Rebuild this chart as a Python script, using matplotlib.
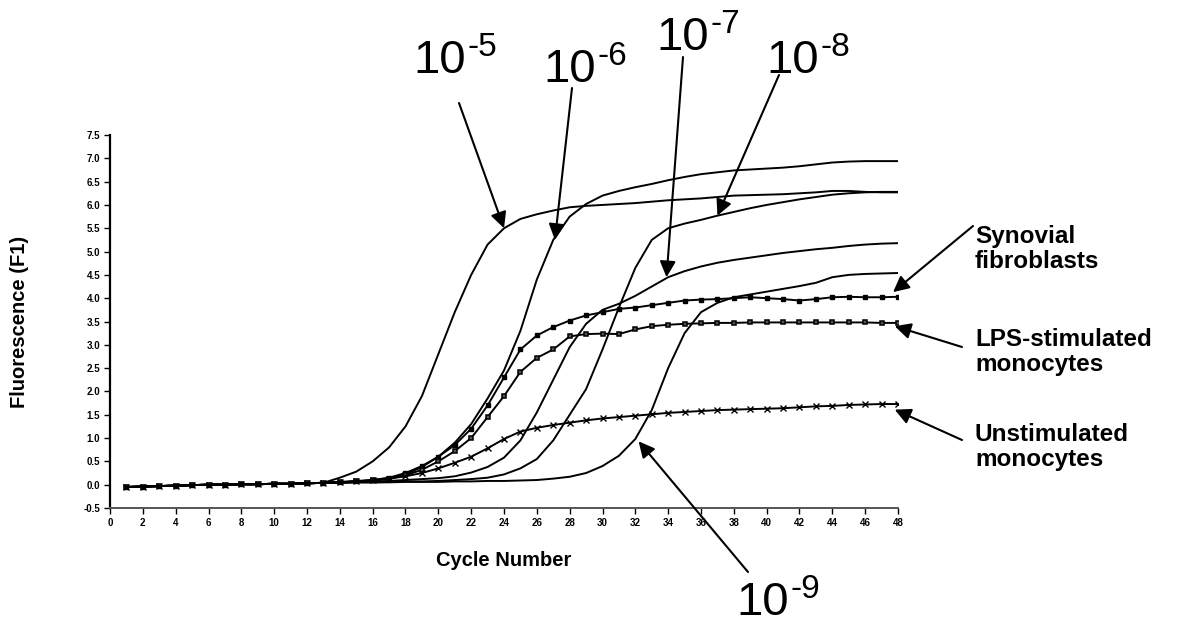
import matplotlib
matplotlib.use("Agg")
import matplotlib.pyplot as plt
import numpy as np

plt.rcParams['font.family'] = ['Liberation Sans', 'DejaVu Sans']

cycles = list(range(1, 49))
base = [-0.05, -0.04, -0.03, -0.02, -0.01, 0.0, 0.0, 0.01, 0.01, 0.02, 0.02, 0.03, 0.04]

d10_5 = base + [0.15, 0.28, 0.5, 0.8, 1.25, 1.9, 2.8, 3.7, 4.5, 5.15, 5.5, 5.7, 5.8, 5.88, 5.95,
                5.98, 6.0, 6.02, 6.04, 6.07, 6.1, 6.12, 6.14, 6.17, 6.2, 6.21, 6.22, 6.23, 6.25,
                6.27, 6.3, 6.3, 6.28, 6.27, 6.27]
d10_6 = base + [0.06, 0.08, 0.1, 0.14, 0.22, 0.38, 0.6, 0.9, 1.3, 1.85, 2.45, 3.3, 4.4, 5.25, 5.75,
                6.02, 6.2, 6.3, 6.38, 6.45, 6.53, 6.6, 6.66, 6.7, 6.74, 6.76, 6.78, 6.8, 6.83,
                6.87, 6.91, 6.93, 6.94, 6.94, 6.94]
d10_7 = base + [0.05, 0.06, 0.07, 0.08, 0.1, 0.12, 0.14, 0.18, 0.26, 0.38, 0.58, 0.95, 1.55, 2.25,
                2.95, 3.45, 3.75, 3.88, 4.05, 4.25, 4.45, 4.58, 4.68, 4.76, 4.82, 4.87, 4.92,
                4.97, 5.01, 5.05, 5.08, 5.12, 5.15, 5.17, 5.18]
d10_8 = base + [0.04, 0.05, 0.05, 0.06, 0.07, 0.07, 0.08, 0.1, 0.12, 0.15, 0.22, 0.35, 0.55, 0.95,
                1.5, 2.05, 2.9, 3.8, 4.65, 5.25, 5.5, 5.6, 5.68, 5.77, 5.85, 5.93, 6.0, 6.06,
                6.12, 6.17, 6.22, 6.25, 6.27, 6.28, 6.28]
d10_9 = base + [0.04, 0.05, 0.05, 0.05, 0.06, 0.06, 0.06, 0.07, 0.07, 0.08, 0.08, 0.09, 0.1, 0.13,
                0.17, 0.25, 0.4, 0.62, 0.98, 1.6, 2.5, 3.25, 3.7, 3.9, 4.02, 4.08, 4.14, 4.2,
                4.26, 4.33, 4.45, 4.5, 4.52, 4.53, 4.54]
synovial = base + [0.05, 0.07, 0.1, 0.15, 0.25, 0.4, 0.6, 0.85, 1.2, 1.7, 2.3, 2.9, 3.2, 3.38, 3.52,
                   3.63, 3.7, 3.77, 3.8, 3.85, 3.9, 3.95, 3.97, 3.98, 4.0, 4.02, 4.0, 3.98, 3.95,
                   3.98, 4.02, 4.03, 4.02, 4.02, 4.03]
lps = base + [0.05, 0.07, 0.09, 0.13, 0.2, 0.32, 0.5, 0.72, 1.0, 1.45, 1.9, 2.42, 2.72, 2.9, 3.18,
              3.23, 3.24, 3.23, 3.33, 3.4, 3.43, 3.45, 3.46, 3.47, 3.47, 3.48, 3.48, 3.48, 3.48,
              3.48, 3.48, 3.48, 3.48, 3.47, 3.47]
unstim = base + [0.05, 0.07, 0.09, 0.13, 0.18, 0.25, 0.35, 0.47, 0.6, 0.78, 0.98, 1.14, 1.22, 1.28,
                 1.33, 1.38, 1.42, 1.45, 1.48, 1.51, 1.54, 1.56, 1.58, 1.6, 1.61, 1.62, 1.63, 1.64,
                 1.66, 1.68, 1.69, 1.71, 1.72, 1.73, 1.73]

x_ticks = list(range(0, 49, 2))
y_ticks = [v / 2 for v in range(-1, 16)]

W, H = 1184, 625
fig = plt.figure(figsize=(W / 100, H / 100), dpi=100)
ax = fig.add_axes([110 / W, 1 - 508 / H, (898 - 110) / W, (508 - 135) / H])

lw = 1.4
for s in (d10_5, d10_6, d10_7, d10_8, d10_9):
    ax.plot(cycles, s, color='black', lw=lw)
ax.plot(cycles, synovial, color='black', lw=lw, marker='s', ms=3.4)
ax.plot(cycles, lps, color='black', lw=lw, marker='s', ms=3.4, mfc='#555555', mew=1.1)
ax.plot(cycles, unstim, color='black', lw=lw, marker='x', ms=4, mew=1.0)

ax.set_xlim(0, 48)
ax.set_ylim(-0.5, 7.5)
ax.set_xticks(x_ticks)
ax.set_xticklabels([str(t) for t in x_ticks], fontsize=7, fontweight='bold')
ax.set_yticks(y_ticks)
ax.set_yticklabels([f"{t:.1f}" for t in y_ticks], fontsize=7, fontweight='bold')
ax.tick_params(axis='both', length=4, width=1.0, pad=3)
for side in ('top', 'right'):
    ax.spines[side].set_visible(False)
ax.spines['left'].set_linewidth(1.6)
ax.spines['bottom'].set_color('#555555')
ax.spines['bottom'].set_linewidth(1.4)

fig.text(504 / W, 1 - 560 / H, 'Cycle Number', ha='center', va='center',
         fontsize=14.5, fontweight='bold')
fig.text(20 / W, 1 - 322 / H, 'Fluorescence (F1)', ha='center', va='center',
         rotation=90, fontsize=14.5, fontweight='bold')

def fxy(px, py):
    return (px / W, 1 - py / H)

arrow = dict(arrowstyle='-|>', mutation_scale=24, lw=1.5, color='black', shrinkA=0, shrinkB=0)

def power_label(px, py, exp, tip, start):
    t = fig.text(*fxy(px, py), '10', fontsize=34, ha='left', va='baseline')
    ax.annotate(exp, xy=(1.0, 0.62), xycoords=t, xytext=(1, 0), textcoords='offset points',
                fontsize=24, ha='left', va='baseline', annotation_clip=False)
    ax.annotate('', xy=tip, xycoords='data', xytext=fxy(*start), textcoords='figure fraction',
                arrowprops=arrow, annotation_clip=False)

power_label(413, 73, '-5', (24, d10_5[23]), (459, 103))
power_label(543, 82, '-6', (27.1, d10_6[26]), (572, 88))
power_label(656, 50, '-7', (33.9, d10_7[33]), (683, 57))
power_label(766, 73, '-8', (37, d10_8[36]), (779, 75))
power_label(736, 615, '-9', (32.2, d10_9[31] - 0.05), (748, 572))

def side_label(px, py, text, tip, start):
    fig.text(*fxy(px, py), text, fontsize=17.5, fontweight='bold', ha='left', va='center',
             linespacing=1.15)
    ax.annotate('', xy=tip, xycoords='data', xytext=fxy(*start), textcoords='figure fraction',
                arrowprops=arrow, annotation_clip=False)

side_label(975, 249, 'Synovial\nfibroblasts', (47.7, synovial[47] + 0.1), (973, 226))
side_label(975, 352, 'LPS-stimulated\nmonocytes', (47.8, lps[47] - 0.07), (962, 347))
side_label(975, 447, 'Unstimulated\nmonocytes', (47.8, unstim[47] - 0.12), (962, 440))

fig.savefig('out.png', dpi=100)
